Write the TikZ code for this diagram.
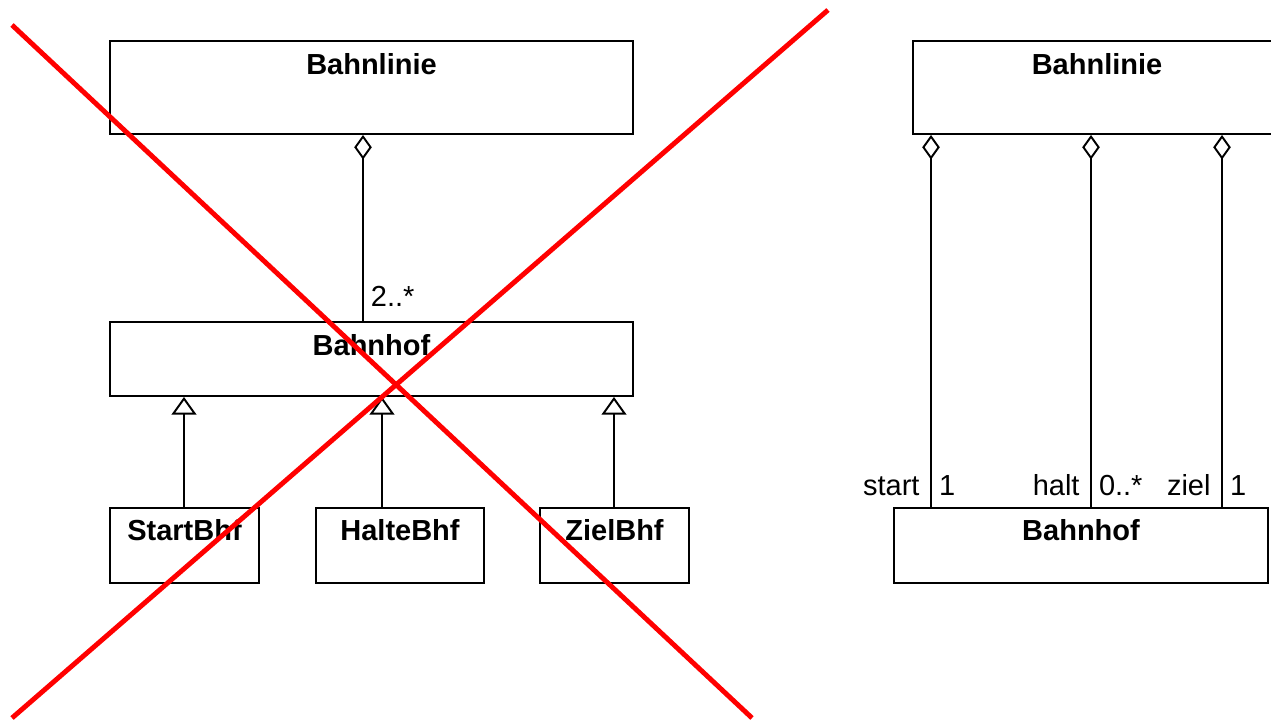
\documentclass[tikz,border=0pt]{standalone}
\usepackage{fontspec}
\setmainfont{Liberation Sans}
\usetikzlibrary{arrows.meta, positioning}

\begin{document}
\begin{tikzpicture}
  [
    x=0.02cm, y=-0.02cm,
    font=\fontsize{16.5}{19}\selectfont,
    Class/.style={rectangle, draw=black, line width=1.1pt, minimum height=1.5cm, inner sep=0pt},
    Title/.style={anchor=center, inner sep=0pt, font=\fontsize{16.5}{19}\selectfont\bfseries},
    Mult/.style={inner sep=6pt},
    Aggr/.style={{Diamond[open, length=14pt, width=10pt]}-, line width=1.1pt},
    Gen/.style={-{Triangle[open, length=10pt, width=14pt]}, line width=1.1pt},
    Cross/.style={draw=red, line width=2.8pt}
  ]
  \useasboundingbox (0,0) rectangle (1271,720);
  \clip (0,0) rectangle (1271,720);

  % Nodes
  \node[Class, minimum width=10.46cm, minimum height=1.86cm,
        label={[Title, yshift=-0.48cm]north:Bahnlinie}] (l-bl) at(371.5, 87.5) {};

  \node[Class, minimum width=10.46cm, minimum height=1.48cm,
        label={[Title, yshift=-0.48cm]north:Bahnhof}] (l-bh) at(371.5, 359) {};

  \node[Class, minimum width=2.98cm,
        label={[Title, yshift=-0.46cm]north:StartBhf}] (l-sb) at(184.5, 545.5) {};

  \node[Class, minimum width=3.36cm,
        label={[Title, yshift=-0.46cm]north:HalteBhf}] (l-hb) at(400, 545.5) {};

  \node[Class, minimum width=2.98cm,
        label={[Title, yshift=-0.46cm]north:ZielBhf}] (l-zb) at(614.5, 545.5) {};

  \node[Class, minimum width=7.36cm, minimum height=1.86cm,
        label={[Title, yshift=-0.48cm]north:Bahnlinie}] (r-bl) at(1097, 87.5) {};

  \node[Class, minimum width=7.48cm,
        label={[Title, yshift=-0.46cm]north:Bahnhof}] (r-bh) at(1081, 545.5) {};

  % line positions
  \coordinate (x-agg) at (363, 0);
  \coordinate (x-startbhf) at (184, 0);
  \coordinate (x-haltebhf) at (382, 0);
  \coordinate (x-zielbhf) at (614, 0);
  \coordinate (x-start) at (931, 0);
  \coordinate (x-halt) at (1091, 0);
  \coordinate (x-ziel) at (1222, 0);

  % Lines
  \path [Aggr, draw] (l-bl.south -| x-agg) -- (l-bh.north -| x-agg)
    node[Mult, at end, above right, inner sep=4pt, yshift=4pt] {2..*};

  \path [Gen, draw] (l-sb.north -| x-startbhf) -- (l-bh.south -| x-startbhf);
  \path [Gen, draw] (l-hb.north -| x-haltebhf) -- (l-bh.south -| x-haltebhf);
  \path [Gen, draw] (l-zb.north -| x-zielbhf) -- (l-bh.south -| x-zielbhf);

  \path [Aggr, draw] (r-bl.south -| x-start) -- (r-bh.north -| x-start)
    node[Mult, at end, above left] {start}
    node[Mult, at end, above right, inner sep=4pt, yshift=2pt] {1};
  \path [Aggr, draw] (r-bl.south -| x-halt) -- (r-bh.north -| x-halt)
    node[Mult, at end, above left] {halt}
    node[Mult, at end, above right, inner sep=4pt, yshift=2pt] {0..*};
  \path [Aggr, draw] (r-bl.south -| x-ziel) -- (r-bh.north -| x-ziel)
    node[Mult, at end, above left] {ziel}
    node[Mult, at end, above right, inner sep=4pt, yshift=2pt] {1};

  % Cross
  \coordinate (c1) at (12, 25);
  \coordinate (c2) at (752, 718);
  \coordinate (c3) at (828, 10);
  \coordinate (c4) at (12, 718);
  \path [Cross] (c1) -- (c2);
  \path [Cross] (c3) -- (c4);

\end{tikzpicture}
\end{document}
